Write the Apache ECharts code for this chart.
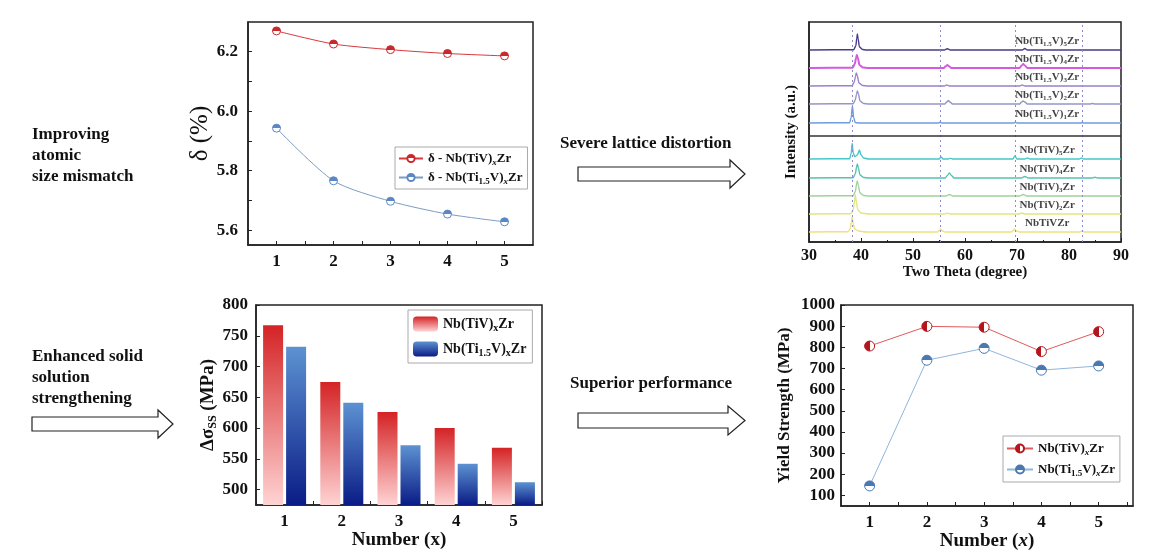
<!DOCTYPE html>
<html>
<head>
<meta charset="utf-8">
<script src="https://cdn.jsdelivr.net/npm/echarts@6/dist/echarts.min.js"></script>
<style>
  html, body { margin: 0; padding: 0; background: #fff; }
  #main { width: 1159px; height: 560px; }
</style>
</head>
<body>
<div id="main"></div>
<script>
// δ (%) vs x
var deltaX = [1, 2, 3, 4, 5];
var deltaTiV = [6.27, 6.226, 6.207, 6.194, 6.186];
var deltaTi15V = [5.943, 5.766, 5.697, 5.654, 5.628];

// solid solution strengthening (MPa)
var barCats = ['1', '2', '3', '4', '5'];
var dssTiV = [767, 675, 626, 600, 568];
var dssTi15V = [732, 641, 572, 542, 512];

// yield strength (MPa)
var ysX = [1, 2, 3, 4, 5];
var ysTiV = [806, 899, 895, 780, 874];
var ysTi15V = [145, 739, 795, 692, 712];

// XRD patterns, [2theta, intensity above own baseline]
var xrdNbTiVZr = [[30,0],[37.5,0.3],[37.9,3],[38.15,10],[38.3,15],[38.5,8],[38.8,3],[39.5,1],[41,0],[54.7,0],[55.1,1.5],[55.3,3],[55.6,1.2],[56.2,0],[68.9,0],[69.3,1.5],[69.5,3],[69.8,1.2],[70.5,0],[82,0],[82.5,1],[83,0],[90,0]];
var xrdTiV2 = [[30,0],[38,0.3],[38.5,4],[38.75,13],[38.9,19],[39.1,12],[39.4,4],[40,1],[41.5,0],[56,0],[56.6,0.8],[57.2,0],[70.3,0],[70.9,1],[71.5,0],[90,0]];
var xrdTiV3 = [[30,0],[38.5,0.3],[38.9,4],[39.15,12],[39.3,15],[39.5,10],[39.8,3],[40.5,0.5],[41.5,0],[56.3,0],[57,1.5],[57.7,0],[70.5,0],[71.2,1.5],[71.9,0],[90,0]];
var xrdTiV4 = [[30,0],[38.5,0.3],[38.9,4],[39.15,11],[39.3,14],[39.5,10],[39.8,3],[40.5,0.5],[41.5,0],[56.2,0],[56.6,2.5],[57,5],[57.4,2.5],[57.9,0],[70.8,0],[71.5,1.5],[72.2,0],[84.5,0],[85,0.7],[85.5,0],[90,0]];
var xrdTiV5 = [[30,0],[37.8,0.3],[38.1,5],[38.3,15.5],[38.5,6],[38.8,2.5],[39.3,4],[39.7,9],[40,4],[40.5,1],[41.5,0],[55,0],[55.4,2],[55.8,0],[56.8,0],[57.2,0.6],[57.6,0],[69.2,0],[69.6,3],[70,0],[71.5,0],[72,1],[72.5,0],[82,0],[82.4,1],[82.8,0],[90,0]];
var xrdTi15V1 = [[30,0],[37.8,0.3],[38.1,5],[38.35,17],[38.6,5],[38.9,0.5],[39.5,0],[54.9,0],[55.2,0.7],[55.5,0],[69.4,0],[69.7,0.7],[70,0],[82.2,0],[82.5,0.5],[82.8,0],[90,0]];
var xrdTi15V2 = [[30,0],[38.5,0.3],[38.9,4],[39.15,10],[39.3,13],[39.5,10],[39.8,3],[40.5,0.5],[41.5,0],[56.1,0],[56.5,2],[56.8,3.5],[57.1,2],[57.6,0],[70.5,0],[70.9,2],[71.2,3],[71.5,2],[72,0],[84,0],[84.5,0.5],[85,0],[90,0]];
var xrdTi15V3 = [[30,0],[38.3,0.3],[38.7,4],[38.95,10],[39.1,13],[39.3,10],[39.6,3],[40.3,0.5],[41.3,0],[56,0],[56.5,1],[57,0],[70.5,0],[71,1],[71.5,0],[90,0]];
var xrdTi15V4 = [[30,0],[38.4,0.3],[38.8,4],[39.05,10],[39.2,13],[39.4,10],[39.7,3],[40.4,0.5],[41.4,0],[55.9,0],[56.3,1.8],[56.6,3],[56.9,1.8],[57.4,0],[70.5,0],[70.9,2.5],[71.2,4],[71.5,2.5],[72,0],[90,0]];
var xrdTi15V5 = [[30,0],[38.6,0.3],[39,4],[39.2,12],[39.3,16],[39.45,11],[39.7,3],[40.3,0.5],[41,0],[56,0],[56.6,1.3],[57.2,0],[71,0],[71.5,1.5],[72,0],[90,0]];
var xrdOffsets = [10, 28, 46, 64, 83, 119, 138, 156, 174, 192];
var xrdLabels = ['NbTiVZr', 'Nb(TiV){s|2}Zr', 'Nb(TiV){s|3}Zr', 'Nb(TiV){s|4}Zr', 'Nb(TiV){s|5}Zr',
  'Nb(Ti{s|1.5}V){s|1}Zr', 'Nb(Ti{s|1.5}V){s|2}Zr', 'Nb(Ti{s|1.5}V){s|3}Zr', 'Nb(Ti{s|1.5}V){s|4}Zr', 'Nb(Ti{s|1.5}V){s|5}Zr'];
var xrdRefLines = [38.3, 55.3, 69.6, 82.5];
var xrdSplit = 106;

var xrdData = [xrdNbTiVZr, xrdTiV2, xrdTiV3, xrdTiV4, xrdTiV5, xrdTi15V1, xrdTi15V2, xrdTi15V3, xrdTi15V4, xrdTi15V5];
var xrdColors = ['#efe27a', '#e2e67f', '#9fd39a', '#55c2ad', '#47c7c9', '#6d9ddb', '#9795c6', '#9b80c8', '#d45ade', '#4a3a88'];

var SERIF = '"Liberation Serif", "Times New Roman", serif';
var RED = '#c9282c', BLUE = '#5b88c4';

function halfFill(color, vertical) {
  return {
    type: 'linear', x: 0, y: 0, x2: vertical ? 0 : 1, y2: vertical ? 1 : 0,
    colorStops: [{offset: 0, color: color}, {offset: 0.5, color: color},
                 {offset: 0.5, color: '#fff'}, {offset: 1, color: '#fff'}]
  };
}

var richBase = {
  n: {fontFamily: SERIF, fontWeight: 'bold', fontSize: 14, color: '#111', lineHeight: 16},
  s: {fontFamily: SERIF, fontWeight: 'bold', fontSize: 9, color: '#111', lineHeight: 10, padding: [8, 0, 0, 0]},
  i: {fontFamily: SERIF, fontWeight: 'bold', fontStyle: 'italic', fontSize: 9, color: '#111', lineHeight: 10, padding: [8, 0, 0, 0]}
};
function rich(size) {
  var r = JSON.parse(JSON.stringify(richBase));
  r.n.fontSize = size; r.n.lineHeight = size + 2;
  r.s.fontSize = Math.round(size * 0.68); r.i.fontSize = r.s.fontSize;
  r.s.padding = [Math.round(size * 0.6), 0, 0, 0]; r.i.padding = r.s.padding;
  return r;
}
// wrap plain parts of a label in {n|}
function toRich(str) {
  return str.split(/(\{[a-z]+\|[^}]*\})/).filter(function (p) { return p; }).map(function (p) {
    return p.charAt(0) === '{' ? p : '{n|' + p + '}';
  }).join('');
}

var legendText = {
  'd1': 'δ - Nb(TiV){i|x}Zr',
  'd2': 'δ - Nb(Ti{s|1.5}V){i|x}Zr',
  'b1': 'Nb(TiV){s|x}Zr',
  'b2': 'Nb(Ti{s|1.5}V){s|x}Zr',
  'y1': 'Nb(TiV){i|x}Zr',
  'y2': 'Nb(Ti{s|1.5}V){i|x}Zr'
};

var plain = function (v) { return String(v); };
var tickLabel = {fontFamily: SERIF, fontWeight: 'bold', fontSize: 17, color: '#111'};
var axisLine = {show: true, lineStyle: {color: '#222', width: 1.5}};
var inTick = {show: true, inside: true, length: 4, lineStyle: {color: '#222', width: 1}};

var chart = echarts.init(document.getElementById('main'), null, {renderer: 'canvas'});

var xrdSeries = xrdData.map(function (d, k) {
  return {
    name: 'xrd' + k, type: 'line', xAxisIndex: 1, yAxisIndex: 1,
    data: d.map(function (p) { return [p[0], p[1] + xrdOffsets[k]]; }),
    showSymbol: false, symbol: 'none', smooth: 0.3, smoothMonotone: 'x', silent: true,
    lineStyle: {color: xrdColors[k], width: k === 8 ? 2 : 1.4},
    itemStyle: {color: xrdColors[k]},
    z: 3
  };
});
xrdSeries.push({
  name: 'xrdLabels', type: 'scatter', xAxisIndex: 1, yAxisIndex: 1, symbolSize: 0, silent: true,
  data: xrdOffsets.map(function (o, k) { return {value: [75.8, o + 9], lab: xrdLabels[k]}; }),
  label: {
    show: true, position: 'inside',
    formatter: function (p) { return toRich(p.data.lab); },
    rich: rich(11)
  },
  markLine: {
    silent: true, symbol: 'none', label: {show: false},
    data: xrdRefLines.map(function (v) {
      return {xAxis: v, lineStyle: {type: [2, 3], color: '#8c8cd0', width: 1}};
    }).concat([{yAxis: xrdSplit, lineStyle: {type: 'solid', color: '#333', width: 1.5}}])
  },
  z: 5
});

var option = {
  backgroundColor: '#fff',
  animation: false,
  grid: [
    {left: 248, top: 22, width: 285, height: 223, show: true, borderColor: '#222', borderWidth: 1.5},
    {left: 809, top: 22, width: 312, height: 220, show: true, borderColor: '#222', borderWidth: 1.5},
    {left: 256, top: 305, width: 286, height: 200, show: true, borderColor: '#222', borderWidth: 1.5},
    {left: 841, top: 305, width: 292, height: 201, show: true, borderColor: '#222', borderWidth: 1.5}
  ],
  xAxis: [
    {gridIndex: 0, type: 'value', min: 0.5, max: 5.5, splitLine: {show: false}, axisLine: axisLine,
     axisTick: Object.assign({customValues: [1, 1.5, 2, 2.5, 3, 3.5, 4, 4.5, 5]}, inTick),
     axisLabel: Object.assign({customValues: deltaX, margin: 8}, tickLabel)},
    {gridIndex: 1, type: 'value', min: 30, max: 90, interval: 10, splitLine: {show: false}, axisLine: axisLine,
     axisTick: inTick, minorTick: {show: true, splitNumber: 2, length: 2, lineStyle: {color: '#222'}},
     axisLabel: Object.assign({}, tickLabel, {fontSize: 16, margin: 6}),
     name: 'Two Theta (degree)', nameLocation: 'middle', nameGap: 21,
     nameTextStyle: {fontFamily: SERIF, fontWeight: 'bold', fontSize: 15, color: '#111'}},
    {gridIndex: 2, type: 'category', data: barCats, axisLine: axisLine,
     axisTick: {show: true, inside: true, length: 4, lineStyle: {color: '#222'}},
     axisLabel: Object.assign({margin: 8}, tickLabel),
     name: 'Number (x)', nameLocation: 'middle', nameGap: 24,
     nameTextStyle: {fontFamily: SERIF, fontWeight: 'bold', fontSize: 19, color: '#111'}},
    {gridIndex: 3, type: 'value', min: 0.5, max: 5.6, splitLine: {show: false}, axisLine: axisLine,
     axisTick: Object.assign({customValues: [1, 1.5, 2, 2.5, 3, 3.5, 4, 4.5, 5, 5.5]}, inTick),
     axisLabel: Object.assign({customValues: ysX, margin: 8}, tickLabel),
     name: '{a|Number (}{b|x}{a|)}', nameLocation: 'middle', nameGap: 26,
     nameTextStyle: {rich: {
       a: {fontFamily: SERIF, fontWeight: 'bold', fontSize: 19, color: '#111'},
       b: {fontFamily: SERIF, fontWeight: 'bold', fontStyle: 'italic', fontSize: 19, color: '#111'}}}}
  ],
  yAxis: [
    {gridIndex: 0, type: 'value', min: 5.55, max: 6.3, splitLine: {show: false}, axisLine: axisLine,
     axisTick: Object.assign({customValues: [5.6, 5.7, 5.8, 5.9, 6.0, 6.1, 6.2]}, inTick),
     axisLabel: Object.assign({customValues: [5.6, 5.8, 6.0, 6.2], margin: 10,
       formatter: function (v) { return v.toFixed(1); }}, tickLabel),
     name: 'δ (%)', nameLocation: 'middle', nameGap: 34,
     nameTextStyle: {fontFamily: SERIF, fontSize: 25, color: '#111'}},
    {gridIndex: 1, type: 'value', min: 0, max: 220, splitLine: {show: false}, axisLine: axisLine,
     axisTick: {show: false}, axisLabel: {show: false},
     name: 'Intensity (a.u.)', nameLocation: 'middle', nameGap: 10,
     nameTextStyle: {fontFamily: SERIF, fontWeight: 'bold', fontSize: 15, color: '#111'}},
    {gridIndex: 2, type: 'value', min: 475, max: 800, splitLine: {show: false}, axisLine: axisLine,
     axisTick: Object.assign({customValues: [500, 550, 600, 650, 700, 750, 800]}, inTick),
     axisLabel: Object.assign({customValues: [500, 550, 600, 650, 700, 750, 800], margin: 8, formatter: plain}, tickLabel),
     name: '{a|Δσ}{s|SS}{a| (MPa)}', nameLocation: 'middle', nameGap: 38,
     nameTextStyle: {rich: {
       a: {fontFamily: SERIF, fontWeight: 'bold', fontSize: 19, color: '#111', lineHeight: 20},
       s: {fontFamily: SERIF, fontWeight: 'bold', fontSize: 12, color: '#111', lineHeight: 12, padding: [10, 0, 0, 0]}}}},
    {gridIndex: 3, type: 'value', min: 50, max: 1000, splitLine: {show: false}, axisLine: axisLine,
     axisTick: Object.assign({customValues: [100, 200, 300, 400, 500, 600, 700, 800, 900, 1000]}, inTick),
     axisLabel: Object.assign({customValues: [100, 200, 300, 400, 500, 600, 700, 800, 900, 1000], margin: 6, formatter: plain}, tickLabel),
     name: 'Yield Strength (MPa)', nameLocation: 'middle', nameGap: 48,
     nameTextStyle: {fontFamily: SERIF, fontWeight: 'bold', fontSize: 17, color: '#111'}}
  ],
  legend: [
    {data: ['d1', 'd2'], left: 395, top: 147, orient: 'vertical', itemGap: 2, itemWidth: 24, itemHeight: 9,
     padding: [3, 5, 3, 3], borderColor: '#aaa', borderWidth: 1, backgroundColor: '#fff',
     formatter: function (n) { return toRich(legendText[n]); }, textStyle: {rich: rich(13)}},
    {data: ['b1', 'b2'], left: 408, top: 310, orient: 'vertical', itemGap: 7, itemWidth: 25, itemHeight: 15,
     padding: [5, 6, 5, 5], borderColor: '#aaa', borderWidth: 1, backgroundColor: '#fff',
     formatter: function (n) { return toRich(legendText[n]); }, textStyle: {rich: rich(14)}},
    {data: ['y1', 'y2'], left: 1003, top: 436, orient: 'vertical', itemGap: 4, itemWidth: 26, itemHeight: 10,
     padding: [4, 5, 4, 3], borderColor: '#aaa', borderWidth: 1, backgroundColor: '#fff',
     formatter: function (n) { return toRich(legendText[n]); }, textStyle: {rich: rich(13)}}
  ],
  series: [
    {name: 'd1', type: 'line', xAxisIndex: 0, yAxisIndex: 0, smooth: 0.25,
     data: deltaX.map(function (x, i) { return [x, deltaTiV[i]]; }),
     symbol: 'circle', symbolSize: 8, lineStyle: {color: '#d6393c', width: 1},
     itemStyle: {color: halfFill(RED, true), borderColor: RED, borderWidth: 1}},
    {name: 'd2', type: 'line', xAxisIndex: 0, yAxisIndex: 0, smooth: 0.25,
     data: deltaX.map(function (x, i) { return [x, deltaTi15V[i]]; }),
     symbol: 'circle', symbolSize: 8, lineStyle: {color: '#7d9cc4', width: 1},
     itemStyle: {color: halfFill(BLUE, true), borderColor: BLUE, borderWidth: 1}},
    {name: 'b1', type: 'bar', xAxisIndex: 2, yAxisIndex: 2, data: dssTiV, barWidth: 20, barGap: '15%',
     itemStyle: {color: {type: 'linear', x: 0, y: 0, x2: 0, y2: 1,
       colorStops: [{offset: 0, color: '#d42325'}, {offset: 1, color: '#ffd3d3'}]}}},
    {name: 'b2', type: 'bar', xAxisIndex: 2, yAxisIndex: 2, data: dssTi15V, barWidth: 20,
     itemStyle: {color: {type: 'linear', x: 0, y: 0, x2: 0, y2: 1,
       colorStops: [{offset: 0, color: '#5d92d2'}, {offset: 1, color: '#0a1c86'}]}}},
    {name: 'y1', type: 'line', xAxisIndex: 3, yAxisIndex: 3,
     data: ysX.map(function (x, i) { return [x, ysTiV[i]]; }),
     symbol: 'circle', symbolSize: 10, lineStyle: {color: '#e05a5c', width: 1},
     itemStyle: {color: halfFill('#b3161c', false), borderColor: '#b3161c', borderWidth: 1}},
    {name: 'y2', type: 'line', xAxisIndex: 3, yAxisIndex: 3,
     data: ysX.map(function (x, i) { return [x, ysTi15V[i]]; }),
     symbol: 'circle', symbolSize: 10, lineStyle: {color: '#8fb6dc', width: 1},
     itemStyle: {color: halfFill('#4a78b0', true), borderColor: '#4a78b0', borderWidth: 1}}
  ].concat(xrdSeries),
  graphic: [
    {type: 'text', left: 32, top: 124, style: {text: 'Improving\natomic\nsize mismatch', font: 'bold 17px ' + SERIF, lineHeight: 21, fill: '#111'}},
    {type: 'text', left: 32, top: 346, style: {text: 'Enhanced solid\nsolution\nstrengthening', font: 'bold 17px ' + SERIF, lineHeight: 21, fill: '#111'}},
    {type: 'text', left: 560, top: 135, style: {text: 'Severe lattice distortion', font: 'bold 17px ' + SERIF, fill: '#111'}},
    {type: 'text', left: 570, top: 375, style: {text: 'Superior performance', font: 'bold 17px ' + SERIF, fill: '#111'}},
    {type: 'polygon', shape: {points: [[578,167],[730,167],[730,160],[745,174],[730,188],[730,181],[578,181]]},
     style: {fill: '#fff', stroke: '#222', lineWidth: 1.2}},
    {type: 'polygon', shape: {points: [[578,413],[728,413],[728,406],[745,420.5],[728,435],[728,428],[578,428]]},
     style: {fill: '#fff', stroke: '#222', lineWidth: 1.2}},
    {type: 'polygon', shape: {points: [[32,417],[158,417],[158,410],[173,424],[158,438],[158,431],[32,431]]},
     style: {fill: '#fff', stroke: '#222', lineWidth: 1.2}}
  ]
};

chart.setOption(option);
</script>
</body>
</html>
